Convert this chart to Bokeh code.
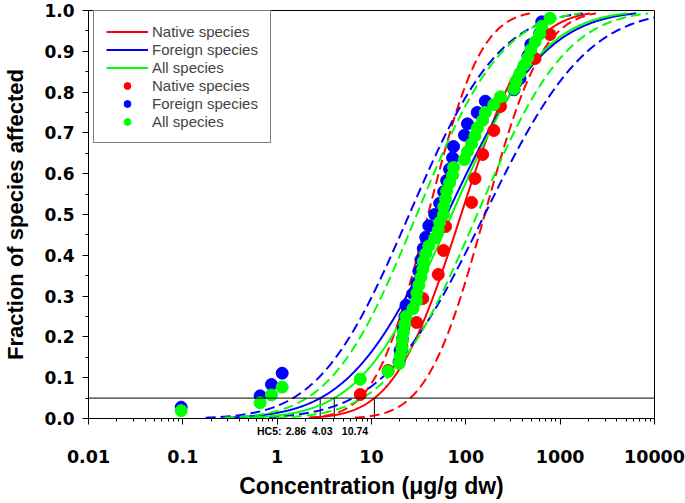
import math
import numpy as np
from bokeh.plotting import figure
from bokeh.models import (Range1d, FixedTicker, CustomJSTickFormatter, PrintfTickFormatter,
                          Span, Legend, LegendItem, LogAxis)
from bokeh.embed import file_html
from bokeh.resources import INLINE

# ---------------- data ----------------
native = [7.6, 15.0, 21.0, 30.0, 35.0, 51.0, 58.0, 61.0, 115.0, 125.0,
          151.0, 198.0, 233.0, 340.0, 542.0, 780.0]
foreign = [0.096, 0.66, 0.87, 1.13, 19.6, 20.1, 21.3, 21.8, 22.6, 23.2,
           27.5, 30.3, 31.8, 33.4, 35.4, 37.6, 40.5, 46.8, 52.8, 58.2,
           62.6, 67.2, 72.3, 74.1, 96.7, 104.0, 132.0, 161.0, 324.0, 375.0,
           413.0, 455.0, 489.0, 608.0, 638.0]
all_species = sorted(native + foreign)

# log-normal SSD fits: (mean of log10 conc, sd of log10 conc)
native_fit = (1.95, 0.5587)
native_ci_left = (1.60, 0.44)
native_ci_right = (2.20, 0.48)
foreign_fit = (1.80, 0.817)
foreign_ci_left = (1.40, 0.75)
foreign_ci_right = (2.20, 0.85)
all_fit = (1.85, 0.757)
all_ci_left = (1.48, 0.71)
all_ci_right = (2.12, 0.74)

hc5_values = [2.86, 4.03, 10.74]
hc5_text = ["HC5:", "2.86", "4.03", "10.74"]
hc5_level = 0.05

x_ticks = [0.01, 0.1, 1, 10, 100, 1000, 10000]
y_ticks = [0.0, 0.1, 0.2, 0.3, 0.4, 0.5, 0.6, 0.7, 0.8, 0.9, 1.0]

# layout: where the HC5 caption words sit along the x axis
hc5_text_x = [0.824, 1.583, 3.006, 6.677]

RED, BLUE, GREEN = "#FF0000", "#0000FF", "#00FF00"
FONT = "Liberation Sans"
NUMFONT = "DejaVu Sans"


def positions(vals):
    n = len(vals)
    s = sorted(vals)
    return s, [(i + 1) / (n + 1) for i in range(n)]


def curve(params):
    mu, sd = params
    xs = np.logspace(-2, 4, 900)
    f = np.array([0.5 * (1 + math.erf((math.log10(x) - mu) / (sd * math.sqrt(2)))) for x in xs])
    m = (f >= 0.002) & (f <= 0.993)
    return xs[m], f[m]


p = figure(width=685, height=503, x_axis_type="log", output_backend="svg",
           toolbar_location=None, x_range=Range1d(0.01, 10000), y_range=Range1d(0, 1),
           min_border_left=83, min_border_right=31, min_border_top=10, min_border_bottom=85)
p.xgrid.visible = False
p.ygrid.visible = False
p.outline_line_color = "black"
p.outline_line_width = 1
p.background_fill_color = "white"
p.border_fill_color = "white"

# reference level and HC5 markers
p.add_layout(Span(location=hc5_level, dimension="width", line_color="black", line_width=1))
p.segment(x0=hc5_values, y0=[0] * 3, x1=hc5_values, y1=[hc5_level] * 3,
          line_color="black", line_width=1)

solid = {}
for name, fit, left, right, col in [("native", native_fit, native_ci_left, native_ci_right, RED),
                                    ("foreign", foreign_fit, foreign_ci_left, foreign_ci_right, BLUE),
                                    ("all", all_fit, all_ci_left, all_ci_right, GREEN)]:
    for prm in (left, right):
        xs, fs = curve(prm)
        p.line(xs, fs, line_color=col, line_width=2, line_dash="10 5")
    xs, fs = curve(fit)
    solid[name] = p.line(xs, fs, line_color=col, line_width=2)

pts = {}
for name, vals, col in [("native", native, RED), ("foreign", foreign, BLUE), ("all", all_species, GREEN)]:
    xs, ys = positions(vals)
    pts[name] = p.scatter(xs, ys, size=12, fill_color=col, line_color=col, marker="circle")

# ---- x axis: ticks only on the primary axis ----
xa = p.xaxis[0]
xa.ticker = FixedTicker(ticks=x_ticks,
                        minor_ticks=[m * 10.0 ** e for e in range(-2, 4) for m in range(2, 10)])
xa.formatter = CustomJSTickFormatter(code="return '';")
xa.major_label_text_font_size = "1px"
xa.major_label_standoff = 0
xa.axis_label_standoff = 0
xa.axis_line_color = "black"
xa.major_tick_line_color = "black"
xa.minor_tick_line_color = "black"
xa.major_tick_in = 0
xa.minor_tick_in = 0
xa.major_tick_out = 6
xa.minor_tick_out = 3

# HC5 caption row
hax = LogAxis(ticker=FixedTicker(ticks=hc5_text_x, minor_ticks=[]),
              formatter=CustomJSTickFormatter(args=dict(labels=hc5_text), code="return labels[index];"),
              axis_line_color=None, major_tick_line_color=None, minor_tick_line_color=None,
              major_tick_out=0, minor_tick_out=0, major_tick_in=0, minor_tick_in=0,
              major_label_standoff=0, major_label_text_font=FONT,
              major_label_text_font_style="bold", major_label_text_font_size="10.5px",
              major_label_text_color="black")
p.add_layout(hax, "below")

# tick labels and title
lax = LogAxis(ticker=FixedTicker(ticks=x_ticks, minor_ticks=[]),
              formatter=CustomJSTickFormatter(code="return tick.toString();"),
              axis_line_color=None, major_tick_line_color=None, minor_tick_line_color=None,
              major_tick_out=0, minor_tick_out=0, major_tick_in=0, minor_tick_in=0,
              major_label_standoff=10, major_label_text_font=NUMFONT,
              major_label_text_font_style="bold", major_label_text_font_size="17.5px",
              major_label_text_color="black",
              axis_label="Concentration (\u03bcg/g dw)", axis_label_standoff=7,
              axis_label_text_font=FONT, axis_label_text_font_style="bold",
              axis_label_text_font_size="23px", axis_label_text_color="black")
p.add_layout(lax, "below")

# ---- y axis ----
ya = p.yaxis[0]
ya.ticker = FixedTicker(ticks=y_ticks, minor_ticks=[0.05 + 0.1 * i for i in range(10)])
ya.formatter = PrintfTickFormatter(format="%.1f")
ya.axis_line_color = "black"
ya.major_tick_line_color = "black"
ya.minor_tick_line_color = "black"
ya.major_tick_in = 0
ya.minor_tick_in = 0
ya.major_tick_out = 6
ya.minor_tick_out = 3
ya.major_label_text_font = NUMFONT
ya.major_label_text_font_style = "bold"
ya.major_label_text_font_size = "17px"
ya.major_label_text_color = "black"
ya.major_label_standoff = 8
ya.axis_label = "Fraction of species affected"
ya.axis_label_text_font = FONT
ya.axis_label_text_font_style = "bold"
ya.axis_label_text_font_size = "22px"
ya.axis_label_text_color = "black"
ya.axis_label_standoff = 13

items = [LegendItem(label="Native species", renderers=[solid["native"]]),
         LegendItem(label="Foreign species", renderers=[solid["foreign"]]),
         LegendItem(label="All species", renderers=[solid["all"]]),
         LegendItem(label="Native species", renderers=[pts["native"]]),
         LegendItem(label="Foreign species", renderers=[pts["foreign"]]),
         LegendItem(label="All species", renderers=[pts["all"]])]
legend = Legend(items=items, location=(5, 275), margin=0, padding=12, spacing=1,
                glyph_width=42, glyph_height=17, label_height=17, label_standoff=4,
                label_text_font=FONT, label_text_font_size="15px",
                border_line_color="black", border_line_width=1, background_fill_alpha=1)
p.add_layout(legend)

open("out.html", "w").write(file_html(p, INLINE))
